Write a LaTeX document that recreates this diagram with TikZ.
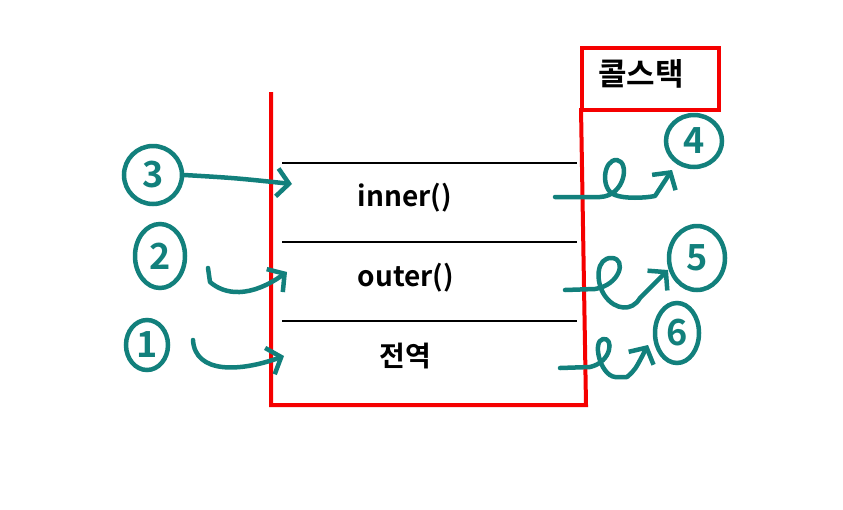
\documentclass[tikz,border=0pt]{standalone}
\usepackage{fontspec}
\usetikzlibrary{arrows.meta,shapes.geometric}
\newfontfamily\krb{Noto Sans CJK KR Bold}
\definecolor{tealpen}{RGB}{18,128,124}
\definecolor{redpen}{RGB}{245,0,0}
\begin{document}
\begin{tikzpicture}[x=1pt,y=-1pt,
  pen/.style={draw=tealpen, line width=4.5pt, line cap=round, line join=round},
  barb/.style={-{Straight Barb[length=12pt,width=28pt]}},
  numc/.style={ellipse, draw=tealpen, line width=4.5pt, text=tealpen, inner sep=0pt,
    font=\krb\fontsize{36}{36}\selectfont},
  redline/.style={draw=redpen, line width=4pt, line join=miter},
  sepline/.style={draw=black, line width=1.4pt},
  lbl/.style={font=\krb\fontsize{28}{28}\selectfont, inner sep=0pt}]
\useasboundingbox[fill=white] (0,0) rectangle (843,509);
% stack frame
\draw[redline] (271,92) -- (271,405) -- (586,405) -- (581,108);
\node[redline, draw, rectangle, minimum width=137pt, minimum height=62pt, anchor=north west] (csbox) at (580,46) {};
\node[lbl, font=\krb\fontsize{31}{31}\selectfont] (cs) at (641,74) {콜스택};
\draw[sepline] (282,163) -- (577,163);
\draw[sepline] (282,242) -- (577,242);
\draw[sepline] (282,321) -- (577,321);
\node[lbl] (inner) at (405,198) {inner()};
\node[lbl] (outer) at (406,278) {outer()};
\node[lbl] (glob) at (405,356) {전역};
% left numbers
\node[numc, minimum width=58pt, minimum height=58pt] (n3) at (153,175) {3};
\node[numc, minimum width=50pt, minimum height=64pt] (n2) at (160,256) {2};
\node[numc, minimum width=42pt, minimum height=50pt] (n1) at (147,345) {1};
\coordinate (e3) at (292,184);
\coordinate (s2) at (208,268);
\coordinate (e2) at (287,272);
\coordinate (s1) at (193,340);
\coordinate (e1) at (284,356);
\draw[pen, barb] (n3.east) .. controls (235,178) .. (e3);
\draw[pen, barb] (s2) -- (210,282) .. controls (225,295) and (250,298) .. (e2);
\draw[pen, barb] (s1) .. controls (195,374) and (240,372) .. (e1);
% right numbers
\node[numc, minimum width=56pt, minimum height=52pt] (n4) at (694,141) {4};
\node[numc, minimum width=56pt, minimum height=64pt] (n5) at (697,258) {5};
\node[numc, minimum width=44pt, minimum height=60pt] (n6) at (677,333) {6};
\coordinate (s4) at (555,197);
\coordinate (e4) at (672,170);
\coordinate (s5) at (565,290);
\coordinate (e5) at (668,270);
\coordinate (s6) at (560,368);
\coordinate (e6) at (648,345);
\draw[pen, barb] (s4) -- (600,197) .. controls (625,196) and (630,162) .. (617,160)
  .. controls (603,159) and (600,190) .. (615,195) .. controls (625,199) and (645,198) .. (655,196) -- (e4);
\draw[pen, barb] (s5) -- (595,289) .. controls (620,285) and (627,259) .. (612,258)
  .. controls (596,257) and (595,282) .. (605,296) .. controls (615,310) and (632,312) .. (640,298) -- (e5);
\draw[pen, barb] (s6) -- (590,367) .. controls (612,362) and (614,337) .. (603,339)
  .. controls (592,341) and (600,375) .. (615,377) -- (627,377) .. controls (635,370) .. (e6);
\end{tikzpicture}
\end{document}
